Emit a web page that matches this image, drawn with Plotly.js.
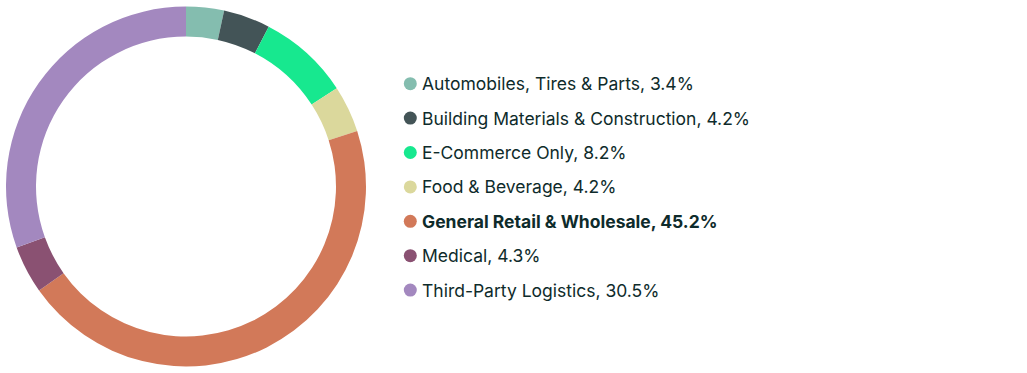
<!DOCTYPE html>
<html>
<head>
<meta charset="utf-8">
<script src="https://cdn.plot.ly/plotly-3.0.1.min.js"></script>
<style>html,body{margin:0;padding:0;background:#fff;}#chart{width:1027px;height:373px;}</style>
</head>
<body>
<div id="chart"></div>
<script>
const categories = ["Automobiles, Tires & Parts", "Building Materials & Construction", "E-Commerce Only", "Food & Beverage", "General Retail & Wholesale", "Medical", "Third-Party Logistics"];
const shares = [3.4, 4.2, 8.2, 4.2, 45.2, 4.3, 30.5];
const colors = ["#84bdaf", "#435457", "#17e88f", "#dbd89c", "#d27959", "#8a5172", "#a388bf"];
const highlighted = [false, false, false, false, true, false, false];
const labels = categories.map((c, i) => {
  const t = c + ", " + shares[i].toFixed(1) + "%";
  return highlighted[i] ? "<b>" + t + "</b>" : t;
});

const W = 1027, H = 373;
const cx = 186, cy = 186.5, R = 180;
const rowTop = 83.7, rowStep = 34.4, markerX = 410.3;

const pie = {
  type: "pie",
  values: shares,
  labels: categories,
  marker: {colors: colors, line: {width: 0}},
  hole: 150 / 180,
  sort: false,
  direction: "clockwise",
  rotation: 0,
  textinfo: "none",
  hoverinfo: "label+percent",
  showlegend: false,
  domain: {x: [(cx - R) / W, (cx + R) / W], y: [(H - cy - R) / H, (H - cy + R) / H]}
};

const idx = categories.map((c, i) => i);
const markers = {
  type: "scatter",
  mode: "markers",
  x: idx.map(() => 0),
  y: idx,
  marker: {size: 13, color: colors, symbol: "circle"},
  hoverinfo: "skip",
  showlegend: false,
  xaxis: "x",
  yaxis: "y"
};

const annotations = idx.map(i => ({
  x: 0, y: i, xref: "x", yref: "y",
  text: labels[i],
  showarrow: false,
  xanchor: "left", yanchor: "middle",
  xshift: 10,
  font: {family: "Inter, sans-serif", size: 17.5, color: "#0e2b2b"}
}));

const layout = {
  width: W, height: H,
  margin: {l: 0, r: 0, t: 0, b: 0},
  paper_bgcolor: "#ffffff",
  plot_bgcolor: "rgba(0,0,0,0)",
  showlegend: false,
  xaxis: {domain: [0, 1], range: [-markerX, W - markerX], visible: false, fixedrange: true},
  yaxis: {domain: [0, 1], range: [(H - rowTop) / rowStep, -rowTop / rowStep], visible: false, fixedrange: true},
  annotations: annotations
};

Plotly.newPlot("chart", [pie, markers], layout, {displayModeBar: false, staticPlot: true});
</script>
</body>
</html>
